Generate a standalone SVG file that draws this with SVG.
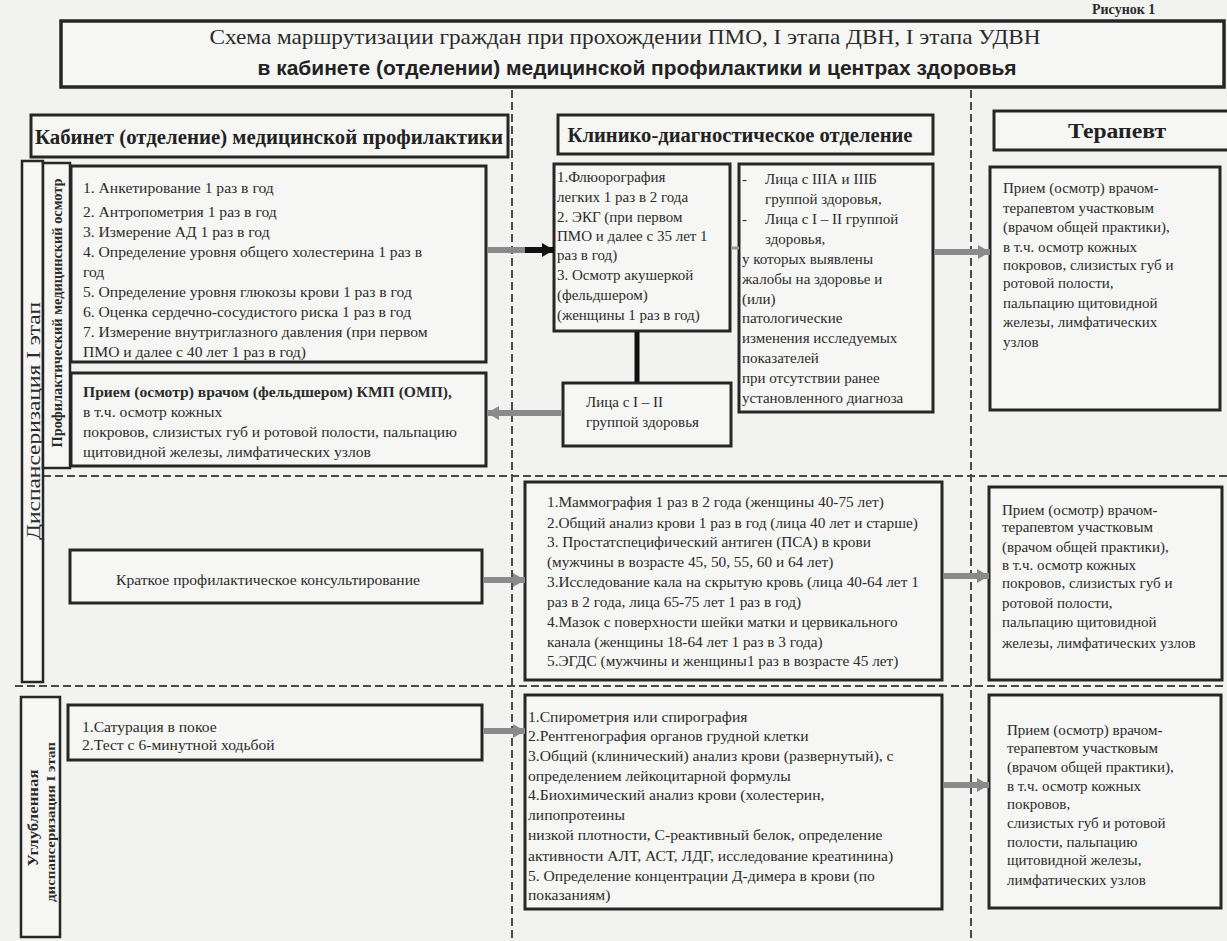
<svg xmlns="http://www.w3.org/2000/svg" width="1227" height="941" viewBox="0 0 1227 941">
<style>
.bg{fill:#f2f2f0}
.box{fill:#f6f6f4;stroke:#262626;stroke-width:3}
.t{font-family:"Liberation Serif","DejaVu Serif",serif;font-size:15px;fill:#2b2b2b}
.s{font-size:15px}
.l{font-size:15.6px}
.m{font-size:15.3px}
.b{font-weight:bold}
.h{font-family:"Liberation Serif","DejaVu Serif",serif;font-size:20px;font-weight:bold;fill:#222}
.dash{stroke:#4a4a4a;stroke-width:2;stroke-dasharray:8 4;fill:none}
.ar{stroke:#8a8a8a;stroke-width:6;fill:none}
.arb{stroke:#111;stroke-width:6;fill:none}
</style>
<defs>
<marker id="ag" viewBox="0 0 12 14" markerWidth="12" markerHeight="14" refX="12" refY="7" orient="auto" markerUnits="userSpaceOnUse"><path d="M0,0 L12,7 L0,14 z" fill="#8a8a8a"/></marker>
<marker id="ak" viewBox="0 0 12 14" markerWidth="12" markerHeight="14" refX="12" refY="7" orient="auto" markerUnits="userSpaceOnUse"><path d="M0,0 L12,7 L0,14 z" fill="#111"/></marker>
</defs>
<rect class="bg" x="0" y="0" width="1227" height="941"/>
<text class="t b" x="1092" y="14" style="font-size:14px">Рисунок 1</text>

<g id="title">
<rect class="box" x="61" y="21" width="1163" height="66" style="stroke-width:3.5"/>
<text class="t" x="625" y="44" text-anchor="middle" style="font-size:22px" textLength="831" lengthAdjust="spacingAndGlyphs">Схема маршрутизации граждан при прохождении ПМО, I этапа ДВН, I этапа УДВН</text>
<text x="637" y="75" text-anchor="middle" style="font-family:'Liberation Sans','DejaVu Sans',sans-serif;font-size:20px;font-weight:bold;fill:#222" textLength="759" lengthAdjust="spacingAndGlyphs">в кабинете (отделении) медицинской профилактики и центрах здоровья</text>
</g>

<g id="lanes">
<line class="dash" x1="512" y1="90" x2="512" y2="941"/>
<line class="dash" x1="971" y1="90" x2="971" y2="941"/>
<line class="dash" x1="43" y1="476" x2="1227" y2="476"/>
<line class="dash" x1="15" y1="686" x2="1227" y2="686"/>
</g>

<g id="hdr-kmp">
<rect class="box" x="31" y="115" width="477" height="42"/>
<text class="h" x="269" y="144" text-anchor="middle" textLength="468" lengthAdjust="spacingAndGlyphs">Кабинет (отделение) медицинской профилактики</text>
</g>
<g id="hdr-kdo">
<rect class="box" x="558" y="115" width="375" height="39"/>
<text class="h" x="740" y="142" text-anchor="middle" textLength="345" lengthAdjust="spacingAndGlyphs">Клинико-диагностическое отделение</text>
</g>
<g id="hdr-ter">
<rect class="box" x="994" y="111" width="240" height="39"/>
<text class="h" x="1117" y="138" text-anchor="middle" textLength="98" lengthAdjust="spacingAndGlyphs">Терапевт</text>
</g>

<g id="lbl-dvn">
<rect class="box" x="22" y="161" width="21" height="521" style="stroke-width:2.5"/>
<text class="t" x="33" y="421" text-anchor="middle" dominant-baseline="central" transform="rotate(-90 33 421)" style="font-size:19px" textLength="238" lengthAdjust="spacingAndGlyphs">Диспансеризация I этап</text>
</g>
<g id="lbl-pmo">
<rect class="box" x="43" y="163" width="27" height="305" style="stroke-width:2.5"/>
<text class="t b" x="57" y="313" text-anchor="middle" dominant-baseline="central" transform="rotate(-90 57 313)" style="font-size:14px" textLength="269" lengthAdjust="spacingAndGlyphs">Профилактический медицинский осмотр</text>
</g>
<g id="lbl-udvn">
<rect class="box" x="21" y="697" width="39" height="240" style="stroke-width:2.5"/>
<text class="t b" x="33" y="818" text-anchor="middle" dominant-baseline="central" transform="rotate(-90 33 818)" style="font-size:15px" textLength="97" lengthAdjust="spacingAndGlyphs">Углубленная</text>
<text class="t b" x="51" y="822" text-anchor="middle" dominant-baseline="central" transform="rotate(-90 51 822)" style="font-size:12px" textLength="160" lengthAdjust="spacingAndGlyphs">диспансеризация I этап</text>
</g>

<g id="kmp-list">
<rect class="box" x="71" y="166" width="415" height="196"/>
<text class="t l" x="83" y="193">1.  Анкетирование  1 раз в год</text>
<text class="t l" x="83" y="217">2. Антропометрия  1 раз в год</text>
<text class="t l" x="83" y="237">3. Измерение АД 1 раз в год</text>
<text class="t l" x="83" y="257">4.  Определение уровня общего холестерина 1 раз в</text>
<text class="t l" x="83" y="277">год</text>
<text class="t l" x="83" y="297">5. Определение уровня глюкозы крови  1 раз в год</text>
<text class="t l" x="83" y="317">6. Оценка сердечно-сосудистого риска 1 раз в год</text>
<text class="t l" x="83" y="337">7. Измерение внутриглазного давления (при первом</text>
<text class="t l" x="83" y="357">ПМО и далее с 40 лет 1 раз в год)</text>
</g>
<g id="kmp-priem">
<rect class="box" x="71" y="373" width="415" height="93"/>
<text class="t l b" x="83" y="397">Прием (осмотр) врачом (фельдшером) КМП (ОМП),</text>
<text class="t l" x="83" y="417">в т.ч. осмотр кожных</text>
<text class="t l" x="83" y="437">покровов, слизистых губ и ротовой полости, пальпацию</text>
<text class="t l" x="83" y="457">щитовидной железы, лимфатических узлов</text>
</g>
<g id="flg">
<rect class="box" x="554" y="164" width="176" height="167"/>
<text class="t" x="557" y="182">1.Флюорография</text>
<text class="t" x="557" y="202">легких 1 раз в 2 года</text>
<text class="t" x="557" y="222">2. ЭКГ (при первом</text>
<text class="t" x="557" y="241">ПМО и далее с 35 лет 1</text>
<text class="t" x="557" y="260">раз в год)</text>
<text class="t" x="557" y="280">3. Осмотр акушеркой</text>
<text class="t" x="557" y="300">(фельдшером)</text>
<text class="t" x="557" y="320">(женщины 1 раз в год)</text>
</g>
<g id="groups">
<rect class="box" x="739" y="164" width="194" height="248"/>
<text class="t" x="742" y="184">-</text>
<text class="t" x="765" y="184">Лица с IIIА и IIIБ</text>
<text class="t" x="765" y="204">группой здоровья,</text>
<text class="t" x="742" y="224">-</text>
<text class="t" x="765" y="224">Лица с I – II группой</text>
<text class="t" x="765" y="244">здоровья,</text>
<text class="t" x="742" y="264">у которых выявлены</text>
<text class="t" x="742" y="284">жалобы на здоровье и</text>
<text class="t" x="742" y="304">(или)</text>
<text class="t" x="742" y="323">патологические</text>
<text class="t" x="742" y="343">изменения исследуемых</text>
<text class="t" x="742" y="363">показателей</text>
<text class="t" x="742" y="383">при отсутствии ранее</text>
<text class="t" x="742" y="403">установленного диагноза</text>
</g>
<g id="grp12">
<rect class="box" x="563" y="383" width="168" height="63"/>
<text class="t" x="586" y="407">Лица с I – II</text>
<text class="t" x="586" y="427">группой  здоровья</text>
</g>
<g id="ter1">
<rect class="box" x="990" y="167" width="230" height="243"/>
<text class="t s" x="1003" y="193">Прием (осмотр) врачом-</text>
<text class="t s" x="1003" y="213">терапевтом участковым</text>
<text class="t s" x="1003" y="232">(врачом общей практики),</text>
<text class="t s" x="1003" y="252">в т.ч. осмотр кожных</text>
<text class="t s" x="1003" y="270">покровов, слизистых губ и</text>
<text class="t s" x="1003" y="288">ротовой полости,</text>
<text class="t s" x="1003" y="308">пальпацию щитовидной</text>
<text class="t s" x="1003" y="327">железы, лимфатических</text>
<text class="t s" x="1003" y="347">узлов</text>
</g>

<g id="consult">
<rect class="box" x="70" y="550" width="412" height="53"/>
<text class="t l" x="268" y="585" text-anchor="middle">Краткое профилактическое консультирование</text>
</g>
<g id="screen">
<rect class="box" x="525" y="482" width="417" height="198"/>
<text class="t m" x="547" y="507">1.Маммография 1 раз в 2 года (женщины 40-75 лет)</text>
<text class="t m" x="547" y="528">2.Общий анализ крови 1 раз в год (лица 40 лет и старше)</text>
<text class="t m" x="547" y="547">3. Простатспецифический антиген (ПСА) в крови</text>
<text class="t m" x="547" y="567">(мужчины в возрасте 45, 50, 55, 60 и 64 лет)</text>
<text class="t m" x="547" y="587">3.Исследование кала на скрытую кровь (лица 40-64 лет 1</text>
<text class="t m" x="547" y="607">раз в 2 года, лица 65-75 лет 1 раз в год)</text>
<text class="t m" x="547" y="627">4.Мазок с поверхности шейки матки и цервикального</text>
<text class="t m" x="547" y="647">канала (женщины 18-64 лет 1 раз в 3 года)</text>
<text class="t m" x="547" y="666">5.ЭГДС (мужчины и женщины1 раз в возрасте 45 лет)</text>
</g>
<g id="ter2">
<rect class="box" x="989" y="487" width="233" height="193"/>
<text class="t s" x="1002" y="515">Прием (осмотр) врачом-</text>
<text class="t s" x="1002" y="532">терапевтом участковым</text>
<text class="t s" x="1002" y="552">(врачом общей практики),</text>
<text class="t s" x="1002" y="570">в т.ч. осмотр кожных</text>
<text class="t s" x="1002" y="588">покровов, слизистых губ и</text>
<text class="t s" x="1002" y="608">ротовой полости,</text>
<text class="t s" x="1002" y="627">пальпацию щитовидной</text>
<text class="t s" x="1002" y="648">железы, лимфатических узлов</text>
</g>

<g id="udvn-kmp">
<rect class="box" x="68" y="705" width="414" height="55"/>
<text class="t l" x="82" y="732">1.Сатурация в покое</text>
<text class="t l" x="82" y="750">2.Тест с 6-минутной ходьбой</text>
</g>
<g id="udvn-kdo">
<rect class="box" x="525" y="695" width="417" height="214"/>
<text class="t l" x="528" y="722">1.Спирометрия или спирография</text>
<text class="t l" x="528" y="741">2.Рентгенография органов грудной клетки</text>
<text class="t l" x="528" y="761">3.Общий (клинический) анализ крови (развернутый), с</text>
<text class="t l" x="528" y="781">определением лейкоцитарной формулы</text>
<text class="t l" x="528" y="800">4.Биохимический анализ крови (холестерин,</text>
<text class="t l" x="528" y="820">липопротеины</text>
<text class="t l" x="528" y="840">низкой плотности, С-реактивный белок, определение</text>
<text class="t l" x="528" y="861">активности АЛТ, АСТ, ЛДГ, исследование креатинина)</text>
<text class="t l" x="528" y="881">5. Определение концентрации Д-димера в крови (по</text>
<text class="t l" x="528" y="900">показаниям)</text>
</g>
<g id="ter3">
<rect class="box" x="989" y="695" width="232" height="213"/>
<text class="t s" x="1007" y="735">Прием (осмотр) врачом-</text>
<text class="t s" x="1007" y="753">терапевтом участковым</text>
<text class="t s" x="1007" y="772">(врачом общей практики),</text>
<text class="t s" x="1007" y="791">в т.ч. осмотр кожных</text>
<text class="t s" x="1007" y="809">покровов,</text>
<text class="t s" x="1007" y="828">слизистых губ и ротовой</text>
<text class="t s" x="1007" y="847">полости, пальпацию</text>
<text class="t s" x="1007" y="865">щитовидной железы,</text>
<text class="t s" x="1007" y="885">лимфатических узлов</text>
</g>

<g id="connectors">
<line class="ar" x1="487" y1="250" x2="527" y2="250"/>
<line class="arb" x1="525" y1="250" x2="554" y2="250" marker-end="url(#ak)"/>
<line x1="731" y1="248" x2="739" y2="248" stroke="#9a9a9a" stroke-width="3"/>
<line class="arb" x1="637" y1="332" x2="637" y2="382" style="stroke-width:5"/>
<line class="ar" x1="562" y1="413" x2="487" y2="413" marker-end="url(#ag)"/>
<line class="ar" x1="934" y1="252" x2="990" y2="252" marker-end="url(#ag)"/>
<line class="ar" x1="483" y1="580" x2="525" y2="580" marker-end="url(#ag)"/>
<line class="ar" x1="943" y1="576" x2="989" y2="576" marker-end="url(#ag)"/>
<line class="ar" x1="483" y1="731" x2="525" y2="731" marker-end="url(#ag)"/>
<line class="ar" x1="943" y1="785" x2="989" y2="785" marker-end="url(#ag)"/>
</g>
</svg>
